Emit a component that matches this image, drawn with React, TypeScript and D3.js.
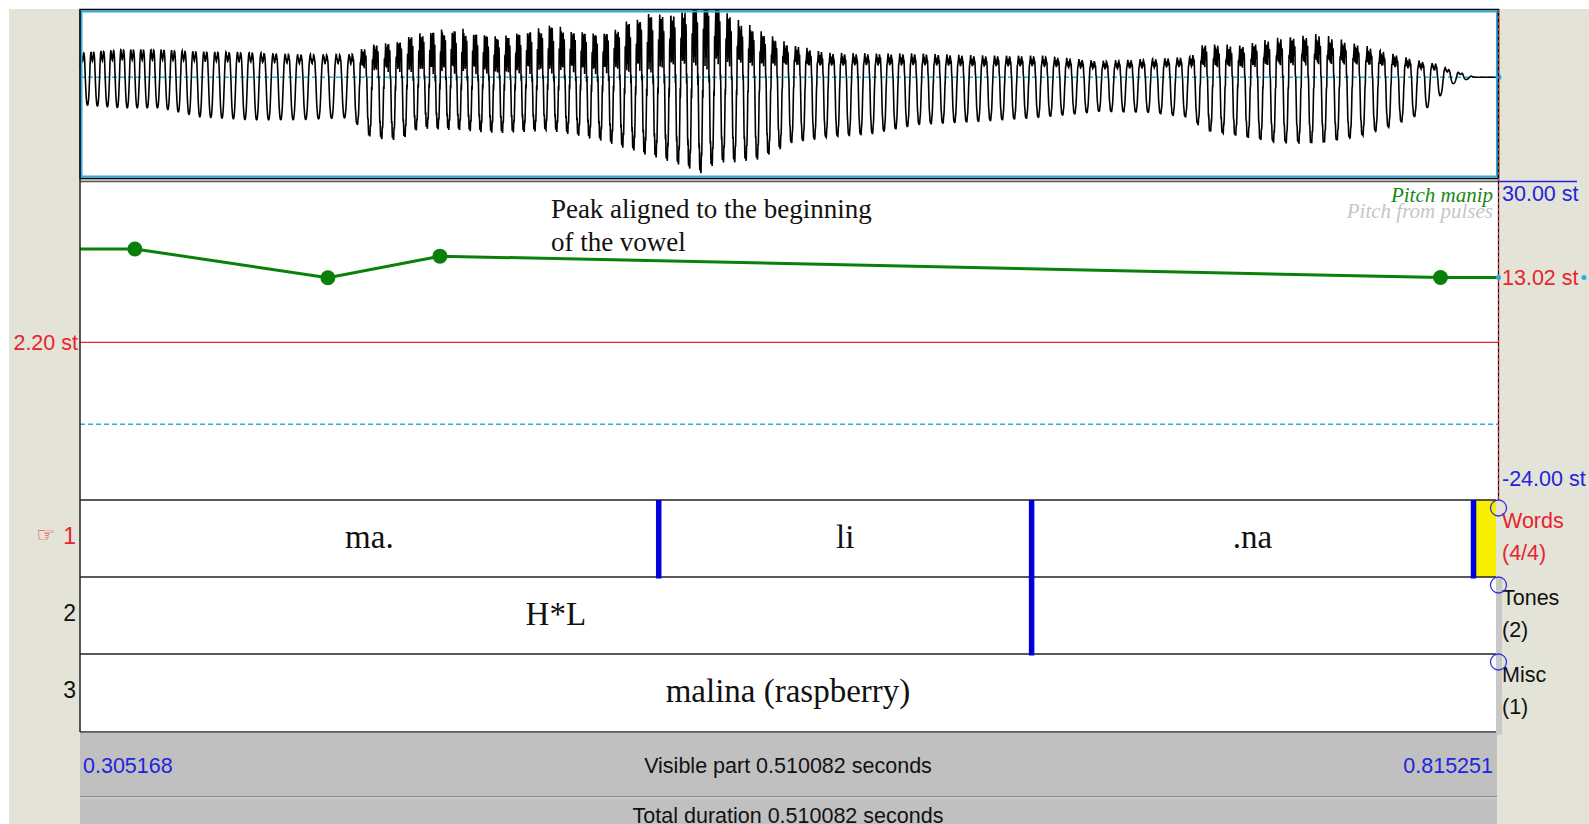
import React from 'react';
import * as d3 from 'd3';

// ---------- data ----------
const T_START = 0.305168;
const T_END = 0.815251;
const VISIBLE = 0.510082;
const TOTAL_DURATION = 0.510082;

// pitch manipulation points (time s, semitones re 100 Hz)
const PITCH_TIMES = [0.3249, 0.3943, 0.4346, 0.7944];
const PITCH_ST = [17.8, 13.0, 16.6, 13.02];
const PITCH_TOP = 30;
const PITCH_BOTTOM = -24;
const PITCH_CURSOR = 2.2;
const PITCH_CURSOR_RIGHT = 13.02;
const PITCH_GUIDE = -11.5;

// waveform amplitude envelope
const WAVE_MIN = -0.6;
const WAVE_MAX = 0.4;
const WAVE_T = [0.3059, 0.3195, 0.3339, 0.3483, 0.3663, 0.3843, 0.4022, 0.4101, 0.4202, 0.4274, 0.4418, 0.4561, 0.4741, 0.4921, 0.5065, 0.5209, 0.5298, 0.5334, 0.5388, 0.5496, 0.5604, 0.5748, 0.5891, 0.6071, 0.6287, 0.6503, 0.6718, 0.6898, 0.7042, 0.7096, 0.7222, 0.7365, 0.7509, 0.7653, 0.7761, 0.7869, 0.794, 0.7976, 0.803, 0.8066, 0.8145];
const WAVE_TOP = [0.144, 0.162, 0.162, 0.15, 0.144, 0.132, 0.132, 0.162, 0.18, 0.221, 0.233, 0.192, 0.251, 0.21, 0.293, 0.329, 0.4, 0.388, 0.311, 0.233, 0.174, 0.132, 0.132, 0.132, 0.12, 0.12, 0.09, 0.102, 0.114, 0.174, 0.162, 0.204, 0.221, 0.174, 0.132, 0.09, 0.073, 0.043, 0.019, 0.0, 0.0];
const WAVE_BOT = [-0.165, -0.183, -0.183, -0.237, -0.255, -0.255, -0.243, -0.374, -0.386, -0.314, -0.326, -0.344, -0.326, -0.386, -0.463, -0.54, -0.6, -0.523, -0.523, -0.505, -0.404, -0.362, -0.344, -0.285, -0.267, -0.243, -0.207, -0.213, -0.243, -0.326, -0.362, -0.404, -0.404, -0.362, -0.302, -0.225, -0.118, -0.046, -0.017, 0.0, 0.0];
const WAVE_ROUGH = [0.05, 0.05, 0.05, 0.05, 0.05, 0.08, 0.1, 0.6, 0.6, 0.7, 0.7, 0.7, 0.7, 0.7, 0.7, 0.7, 0.7, 0.6, 0.6, 0.5, 0.4, 0.25, 0.2, 0.2, 0.2, 0.2, 0.2, 0.2, 0.2, 0.45, 0.45, 0.45, 0.45, 0.35, 0.3, 0.2, 0.1, 0.05, 0.0, 0.0, 0.0];

// tiers
const TIER_NAMES = ['Words', 'Tones', 'Misc'];
const TIER_COUNTS = ['(4/4)', '(2)', '(1)'];
const WORD_BOUNDS = [0.51327, 0.64736, 0.80627];
const WORD_LABELS = ['ma.', 'li', '.na', ''];
const TONE_BOUNDS = [0.64736];
const TONE_LABELS = ['H*L', ''];
const MISC_BOUNDS: number[] = [];
const MISC_LABELS = ['malina (raspberry)'];
const SELECTED_TIER = 0;
const SELECTED_INTERVAL = 3;

const ANNOTATION = ['Peak aligned to the beginning', 'of the vowel'];
const ANNOTATION_TIME = 0.4745;
const ANNOTATION_ST = 23.0;

// ---------- layout ----------
const W = 1589;
const H = 824;
const XL = 80;
const XR = 1498.5;
const TIER_XR = 1496;
const WAVE_Y0 = 10;
const WAVE_Y1 = 178;
const PITCH_Y0 = 182;
const PITCH_Y1 = 499;
const TIER_TOPS = [500, 577, 654];
const TIER_BOTTOM = 732;
const BAR_SPLIT = 797;

const SANS = "'Liberation Sans', Arial, sans-serif";
const SERIF = "'Liberation Serif', 'Times New Roman', serif";
const BLUE = '#2323dd';
const RED = '#e8242c';
const GREEN = '#0a800a';
const CYAN = '#27aee6';
const BEIGE = '#e3e3d7';

const xT = d3.scaleLinear().domain([T_START, T_END]).range([XL, XR]);
const yW = d3.scaleLinear().domain([WAVE_MIN, WAVE_MAX]).range([WAVE_Y1, WAVE_Y0]);
const yP = d3.scaleLinear().domain([PITCH_BOTTOM, PITCH_TOP]).range([PITCH_Y1, 176]);

const stAt = d3.scaleLinear().domain(PITCH_TIMES).range(PITCH_ST).clamp(true);
const topAt = d3.scaleLinear().domain(WAVE_T).range(WAVE_TOP).clamp(true);
const botAt = d3.scaleLinear().domain(WAVE_T).range(WAVE_BOT).clamp(true);
const roughAt = d3.scaleLinear().domain(WAVE_T).range(WAVE_ROUGH).clamp(true);

function base(p: number) {
  return Math.sin(p) + 0.3 * Math.cos(2 * p) + 0.15 * Math.sin(3 * p);
}

function buildWave(): string {
  const x0 = xT(T_START);
  const x1 = xT(T_END);
  const step = 0.2;
  const dt = (step * (T_END - T_START)) / (x1 - x0);
  let pmax = 0;
  let nmin = 0;
  for (let i = 0; i < 2000; i++) {
    const b = base((i / 2000) * 2 * Math.PI);
    pmax = Math.max(pmax, b);
    nmin = Math.min(nmin, b);
  }
  let phase = 0;
  const pts: [number, number][] = [];
  for (let px = x0; px <= x1; px += step) {
    const t = xT.invert(px);
    const f = 100 * Math.pow(2, stAt(t) / 12);
    const top = topAt(t);
    const bot = botAt(t);
    const r = roughAt(t);
    const b = base(phase);
    const n = r * (0.6 * Math.sin(11 * phase + 0.7) + 0.35 * Math.sin(17 * phase + 1.3)) * (0.55 + 0.45 * Math.sin(phase));
    const s = b + n;
    const v = s >= 0 ? (top * s) / (pmax + 0.25 * r) : (bot * s) / (nmin - 0.1 * r);
    pts.push([px, yW(Math.max(WAVE_MIN, Math.min(WAVE_MAX, v)))]);
    phase += 2 * Math.PI * f * dt;
  }
  return d3.line()(pts) || '';
}

const WAVE_PATH = buildWave();

function intervals(bounds: number[]) {
  const edges = [T_START, ...bounds, T_END];
  return edges.slice(0, -1).map((s, i) => [s, edges[i + 1]]);
}

export default function App() {
  const pitchPts: [number, number][] = [
    [T_START, PITCH_ST[0]],
    ...PITCH_TIMES.map((t, i) => [t, PITCH_ST[i]] as [number, number]),
    [T_END, PITCH_ST[PITCH_ST.length - 1]],
  ];
  const pitchPath = d3.line<[number, number]>().x((d) => xT(d[0])).y((d) => yP(d[1]))(pitchPts) || '';

  const tiers = [
    { bounds: WORD_BOUNDS, labels: WORD_LABELS },
    { bounds: TONE_BOUNDS, labels: TONE_LABELS },
    { bounds: MISC_BOUNDS, labels: MISC_LABELS },
  ];
  const tierH = (i: number) => (i < 2 ? TIER_TOPS[i + 1] : TIER_BOTTOM) - TIER_TOPS[i];

  return (
    <>
      <style>{`html,body{overflow:hidden}`}</style>
      <svg width={W} height={H} style={{ position: 'absolute', left: 0, top: 0 }}>
        <rect x={0} y={0} width={W} height={H} fill="#ffffff" />
        <rect x={9} y={9} width={W - 9} height={H - 9} fill={BEIGE} />

        {/* waveform */}
        <rect x={XL} y={WAVE_Y0} width={XR - XL} height={WAVE_Y1 - WAVE_Y0} fill="#fff" />
        <line x1={XL} x2={XR} y1={yW(0)} y2={yW(0)} stroke={CYAN} strokeWidth={1.5} strokeDasharray="5 3" />
        <path d={WAVE_PATH} fill="none" stroke="#000" strokeWidth={1.6} />
        <rect x={XL + 1.5} y={WAVE_Y0 + 1.5} width={XR - XL - 3} height={WAVE_Y1 - WAVE_Y0 - 3} fill="none" stroke={CYAN} strokeWidth={2} />
        <rect x={XL} y={WAVE_Y0 - 0.5} width={XR - XL} height={WAVE_Y1 - WAVE_Y0 + 1} fill="none" stroke="#000" strokeWidth={1.5} />
        <circle cx={XR} cy={yW(0)} r={3} fill={CYAN} />

        {/* pitch panel */}
        <rect x={XL} y={PITCH_Y0} width={XR - XL} height={TIER_TOPS[0] - PITCH_Y0} fill="#fff" />
        <line x1={XL} x2={XR} y1={181.5} y2={181.5} stroke="#555" strokeWidth={1.5} />
        <line x1={XL} x2={XR} y1={yP(PITCH_CURSOR)} y2={yP(PITCH_CURSOR)} stroke={RED} strokeWidth={1.3} />
        <line x1={XL} x2={XR} y1={yP(PITCH_GUIDE)} y2={yP(PITCH_GUIDE)} stroke={CYAN} strokeWidth={1.5} strokeDasharray="5 3" />
        <path d={pitchPath} fill="none" stroke={GREEN} strokeWidth={3} />
        {PITCH_TIMES.map((t, i) => (
          <circle key={i} cx={xT(t)} cy={yP(PITCH_ST[i])} r={7.5} fill={GREEN} />
        ))}
        <text x={1493} y={202} textAnchor="end" fontFamily={SERIF} fontStyle="italic" fontSize={21} fill="#168a16">Pitch manip</text>
        <text x={1493} y={218} textAnchor="end" fontFamily={SERIF} fontStyle="italic" fontSize={21} fill="#c6c6c6">Pitch from pulses</text>
        {ANNOTATION.map((s, i) => (
          <text key={i} x={xT(ANNOTATION_TIME)} y={yP(ANNOTATION_ST) + i * 33} fontFamily={SERIF} fontSize={27} fill="#111">{s}</text>
        ))}

        {/* cursor line */}
        <line x1={XR} x2={XR} y1={WAVE_Y0} y2={TIER_TOPS[0]} stroke="#000" strokeWidth={1.2} />
        <line x1={XR} x2={XR} y1={WAVE_Y0} y2={TIER_TOPS[0]} stroke={RED} strokeWidth={1.2} strokeDasharray="3 3" />

        {/* pitch axis labels */}
        <line x1={XR} x2={1577} y1={181.5} y2={181.5} stroke={BLUE} strokeWidth={1.3} />
        <text x={1502} y={yP(PITCH_TOP) + 24.5} fontFamily={SANS} fontSize={21.5} fill={BLUE}>{PITCH_TOP.toFixed(2)} st</text>
        <text x={1502} y={yP(PITCH_CURSOR_RIGHT) + 7.5} fontFamily={SANS} fontSize={21.5} fill={RED}>{PITCH_CURSOR_RIGHT.toFixed(2)} st</text>
        <circle cx={XR} cy={yP(PITCH_CURSOR_RIGHT)} r={2.5} fill={CYAN} />
        <circle cx={1584} cy={yP(PITCH_CURSOR_RIGHT)} r={2.5} fill={CYAN} />
        <text x={1502} y={yP(PITCH_BOTTOM) - 13.5} fontFamily={SANS} fontSize={21.5} fill={BLUE}>{PITCH_BOTTOM.toFixed(2)} st</text>
        <text x={78} y={yP(PITCH_CURSOR) + 7.5} textAnchor="end" fontFamily={SANS} fontSize={21.5} fill={RED}>{PITCH_CURSOR.toFixed(2)} st</text>

        {/* tiers */}
        <rect x={XL} y={TIER_TOPS[0]} width={TIER_XR - XL} height={TIER_BOTTOM - TIER_TOPS[0]} fill="#fff" />
        <rect x={TIER_XR} y={TIER_TOPS[1]} width={6} height={TIER_BOTTOM - TIER_TOPS[1] + 3} rx={2} fill="#c8c8c8" />
        {tiers.map((tier, ti) => {
          const top = TIER_TOPS[ti];
          const h = tierH(ti);
          const mid = top + h / 2;
          const ivs = intervals(tier.bounds);
          return (
            <g key={ti}>
              {ivs.map((iv, k) =>
                ti === SELECTED_TIER && k === SELECTED_INTERVAL ? (
                  <rect key={'s' + k} x={xT(iv[0])} y={top} width={TIER_XR - xT(iv[0])} height={h} fill="#f8f000" />
                ) : null
              )}
              {ivs.map((iv, k) => (
                <text key={'t' + k} x={(xT(iv[0]) + Math.min(TIER_XR, xT(iv[1]))) / 2} y={mid + 9} textAnchor="middle" fontFamily={SERIF} fontSize={33} fill="#111">{tier.labels[k]}</text>
              ))}
              <text x={76} y={mid + 5} textAnchor="end" fontFamily={SANS} fontSize={23} fill={ti === SELECTED_TIER ? RED : '#111'}>{ti + 1}</text>
              {ti === SELECTED_TIER ? (
                <text x={55} y={mid + 3} textAnchor="end" fontFamily="'DejaVu Sans', sans-serif" fontSize={21} fill={RED}>☞</text>
              ) : null}
              <text x={1502} y={top + 27.5} fontFamily={SANS} fontSize={21.5} fill={ti === SELECTED_TIER ? RED : '#111'}>{TIER_NAMES[ti]}</text>
              <text x={1502} y={top + 59.5} fontFamily={SANS} fontSize={21.5} fill={ti === SELECTED_TIER ? RED : '#111'}>{TIER_COUNTS[ti]}</text>
            </g>
          );
        })}
        {TIER_TOPS.map((y, i) => (
          <line key={i} x1={XL} x2={TIER_XR} y1={y} y2={y} stroke="#222" strokeWidth={1.3} />
        ))}
        <line x1={XL} x2={TIER_XR} y1={TIER_BOTTOM} y2={TIER_BOTTOM} stroke="#222" strokeWidth={1.3} />
        {tiers.map((tier, ti) =>
          tier.bounds.map((b, k) => (
            <line key={ti + '-' + k} x1={xT(b)} x2={xT(b)} y1={TIER_TOPS[ti]} y2={TIER_TOPS[ti] + tierH(ti) + 1.5} stroke="#0000dd" strokeWidth={5.5} />
          ))
        )}
        {TIER_TOPS.map((y, i) => (
          <circle key={i} cx={XR} cy={y + 8} r={8} fill="none" stroke="#3333dd" strokeWidth={1.3} />
        ))}
        <line x1={XL} x2={XL} y1={WAVE_Y0} y2={TIER_BOTTOM} stroke="#222" strokeWidth={1.5} />

        {/* bottom bars */}
        <rect x={XL} y={TIER_BOTTOM + 0.7} width={TIER_XR + 1 - XL} height={H - TIER_BOTTOM} fill="#c0c0c0" />
        <line x1={XL} x2={TIER_XR + 1} y1={BAR_SPLIT - 0.5} y2={BAR_SPLIT - 0.5} stroke="#8a8a8a" strokeWidth={1.2} />
        <line x1={XL} x2={TIER_XR + 1} y1={BAR_SPLIT + 1} y2={BAR_SPLIT + 1} stroke="#d6d6d6" strokeWidth={1} />
        <text x={83} y={772.5} fontFamily={SANS} fontSize={21.5} fill={BLUE}>{T_START.toFixed(6)}</text>
        <text x={1493} y={772.5} textAnchor="end" fontFamily={SANS} fontSize={21.5} fill={BLUE}>{T_END.toFixed(6)}</text>
        <text x={(XL + TIER_XR) / 2} y={772.5} textAnchor="middle" fontFamily={SANS} fontSize={21.5} fill="#111">Visible part {VISIBLE.toFixed(6)} seconds</text>
        <text x={(XL + TIER_XR) / 2} y={822.5} textAnchor="middle" fontFamily={SANS} fontSize={21.5} fill="#111">Total duration {TOTAL_DURATION.toFixed(6)} seconds</text>
      </svg>
    </>
  );
}
